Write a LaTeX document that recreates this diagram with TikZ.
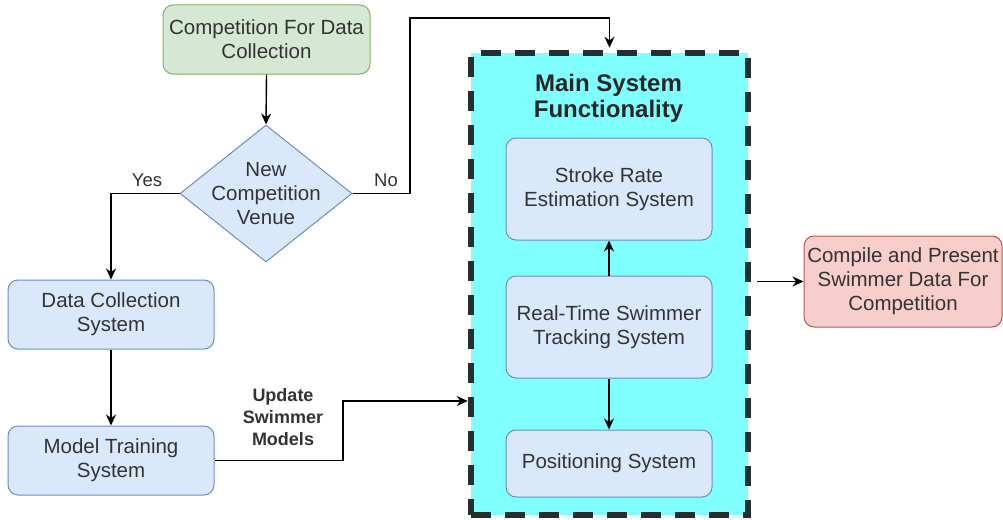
\documentclass[tikz,border=0pt]{standalone}
\usepackage{fontspec}
\setmainfont{Liberation Sans}
\usetikzlibrary{shapes.geometric,arrows.meta}
\definecolor{greenfill}{HTML}{D5E8D4}
\definecolor{greenline}{HTML}{82B366}
\definecolor{bluefill}{HTML}{DAE8FC}
\definecolor{blueline}{HTML}{6C8EBF}
\definecolor{redfill}{HTML}{F8CECC}
\definecolor{redline}{HTML}{B85450}
\definecolor{cyanfill}{HTML}{80FFFF}
\definecolor{frameline}{HTML}{243030}
\definecolor{txt}{HTML}{333333}
\begin{document}
\begin{tikzpicture}[x=1pt,y=-1pt,
  box/.style={rounded corners=10pt, draw, line width=1pt, align=center,
    text=txt, inner sep=0pt, font=\fontsize{20.5}{24}\selectfont},
  gbox/.style={box, fill=greenfill, draw=greenline},
  bbox/.style={box, fill=bluefill, draw=blueline},
  rbox/.style={box, fill=redfill, draw=redline},
  lbl/.style={text=txt, font=\fontsize{18.5}{22}\selectfont},
  arr/.style={line width=1.4pt, -{Stealth[length=11pt,width=10pt]}}
]
\useasboundingbox (0,0) rectangle (1003,519);

% grouping frame of the core system
\node[draw=frameline, fill=cyanfill, line width=6.5pt, dash pattern=on 20pt off 14pt,
      minimum width=277pt, minimum height=462pt, inner sep=0pt] (main) at (609.5,284) {};
\node[text=black!85, align=center, font=\fontsize{24}{26}\selectfont\bfseries] (title) at (608.5,98)
  {Main System\\Functionality};

% top decision path
\node[gbox, minimum width=207pt, minimum height=69pt] (comp) at (266.5,39.5)
  {Competition For Data\\Collection};
\node[diamond, draw=blueline, fill=bluefill, line width=1pt, minimum width=172pt,
      minimum height=137pt, inner sep=0pt] (dec) at (266,193.5) {};
\node[align=center, text=txt, font=\fontsize{20.5}{24}\selectfont] (dectext) at (dec.center)
  {New\\Competition\\Venue};

% left column
\node[bbox, minimum width=206pt, minimum height=69pt] (dc) at (111,314.5)
  {Data Collection\\System};
\node[bbox, minimum width=206pt, minimum height=69pt] (mt) at (111,460.5)
  {Model Training\\System};

% inner system blocks
\node[bbox, minimum width=206pt, minimum height=102pt] (sr) at (609,189)
  {Stroke Rate\\Estimation System};
\node[bbox, minimum width=206pt, minimum height=102pt] (rt) at (609,327)
  {Real-Time Swimmer\\Tracking System};
\node[bbox, minimum width=206pt, minimum height=67pt] (pos) at (609,463.5)
  {Positioning System};

% output
\node[rbox, minimum width=198pt, minimum height=91pt] (out) at (903,281.5)
  {Compile and Present\\Swimmer Data For\\Competition};

% connectors
\coordinate (nobend) at (410,18);
\coordinate (updbend) at (343,401);

\draw[arr] (comp.south) -- (dec.north);
\draw[arr] (dec.west) -| (dc.north);
\node[lbl] (yes) at (147,180) {Yes};
\draw[arr, shorten >=2pt] (dec.east) -| (nobend) -| (main.north);
\node[lbl] (no) at (386,180) {No};

\draw[arr] (dc.south) -- (mt.north);
\draw[arr] (mt.east) -| (updbend) -- (main.west |- updbend);
\node[lbl, align=center, font=\fontsize{18}{22}\selectfont\bfseries] (updlbl) at (283,417)
  {Update\\Swimmer\\Models};

\draw[arr] (rt.north) -- (sr.south);
\draw[arr] (rt.south) -- (pos.north);
\draw[arr, shorten <=6pt] (main.east |- out.west) -- (out.west);
\end{tikzpicture}
\end{document}
